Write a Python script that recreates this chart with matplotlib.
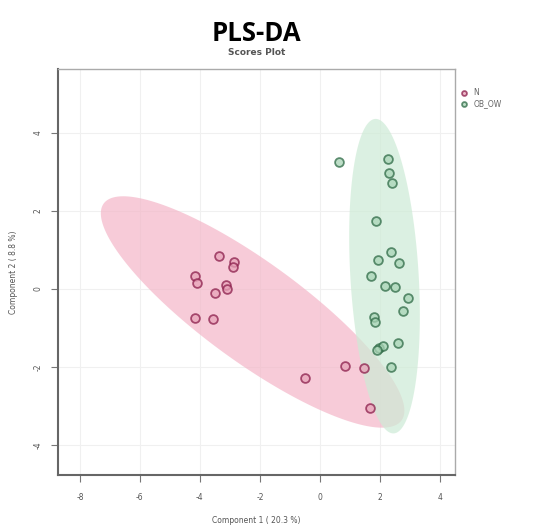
import matplotlib.pyplot as plt
import numpy as np
from matplotlib.patches import Polygon


# scores, component 1 / component 2
n_x = [-3.37, -2.87, -2.90, -4.17, -4.10, -3.13, -3.10, -3.50, -4.17, -3.57, 0.83, 1.47, -0.50, 1.67]
n_y = [0.85, 0.69, 0.56, 0.33, 0.15, 0.10, 0.00, -0.10, -0.74, -0.77, -1.97, -2.03, -2.28, -3.05]

ob_x = [0.63, 2.27, 2.30, 2.40, 1.87, 2.37, 1.93, 2.63, 1.70, 2.17, 2.50, 2.93, 2.77, 1.80, 1.83,
        1.97, 2.10, 1.90, 2.60, 2.37]
ob_y = [3.26, 3.33, 2.97, 2.72, 1.74, 0.95, 0.74, 0.67, 0.33, 0.08, 0.05, -0.23, -0.56, -0.72, -0.85,
        -1.51, -1.46, -1.56, -1.38, -2.00]

groups = ['N', 'OB_OW']
fill_cols = ['#f4b6c8', '#cdebd6']
edge_cols = ['#8c1f4c', '#2f6b47']
point_cols = ['#e7a3b8', '#a9d4b6']

x_ticks = [-8, -6, -4, -2, 0, 2, 4]
y_ticks = [-4, -2, 0, 2, 4]


def conf_ellipse(x, y, level_chi2=5.6, n=200):
    # normal ellipse from the group covariance
    pts = np.column_stack([x, y])
    mu = pts.mean(axis=0)
    cov = np.cov(pts, rowvar=False)
    vals, vecs = np.linalg.eigh(cov)
    t = np.linspace(0, 2 * np.pi, n)
    circ = np.column_stack([np.cos(t), np.sin(t)]) * np.sqrt(vals * level_chi2)
    return circ @ vecs.T + mu


fig = plt.figure(figsize=(5.34, 5.28), dpi=100)
ax = fig.add_axes([0.1086, 0.1004, 0.7434, 0.7689])

for gx, gy, fc in zip([n_x, ob_x], [n_y, ob_y], fill_cols):
    ax.add_patch(Polygon(conf_ellipse(gx, gy), closed=True, facecolor=fc, edgecolor='none',
                         alpha=0.7, zorder=1))

for gx, gy, pc, ec, name in zip([n_x, ob_x], [n_y, ob_y], point_cols, edge_cols, groups):
    ax.scatter(gx, gy, s=40, facecolor=pc, edgecolor=ec, linewidth=1.3, alpha=0.75, zorder=3, label=name)

ax.set_xlim(-8.73, 4.5)
ax.set_ylim(-4.77, 5.64)
ax.set_xticks(x_ticks)
ax.set_yticks(y_ticks)
ax.set_xticklabels([str(v) for v in x_ticks], fontsize=5.5, color='#555555')
ax.set_yticklabels([str(v) for v in y_ticks], fontsize=5.5, color='#555555', rotation=90, va='center')
ax.tick_params(axis='x', length=5, width=0.8, color='#777777', pad=8)
ax.tick_params(axis='y', length=5, width=0.8, color='#777777', pad=6)
ax.grid(True, color='#f0f0f0', linewidth=0.8, zorder=0)
ax.set_axisbelow(True)
for side in ['left', 'bottom']:
    ax.spines[side].set_color('#666666')
    ax.spines[side].set_linewidth(1.5)
for side in ['top', 'right']:
    ax.spines[side].set_color('#aaaaaa')
    ax.spines[side].set_linewidth(1.0)

ax.set_xlabel('Component 1 ( 20.3 %)', fontsize=5.5, color='#555555', labelpad=10)
ax.set_ylabel('Component 2 ( 8.8 %)', fontsize=5.5, color='#555555', labelpad=11)

fig.text(0.481, 0.937, 'PLS-DA', ha='center', va='center', fontsize=18.5, fontweight='bold',
         family='Open Sans')
fig.text(0.481, 0.9, 'Scores Plot', ha='center', va='center', fontsize=6.5, fontweight='semibold',
         color='#555555')

leg = ax.legend(loc='upper left', bbox_to_anchor=(0.985, 0.97), frameon=False, fontsize=5.5,
                markerscale=0.55, handletextpad=0.3, labelspacing=0.25)
for txt in leg.get_texts():
    txt.set_color('#666666')

fig.savefig('out.png', dpi=100)
